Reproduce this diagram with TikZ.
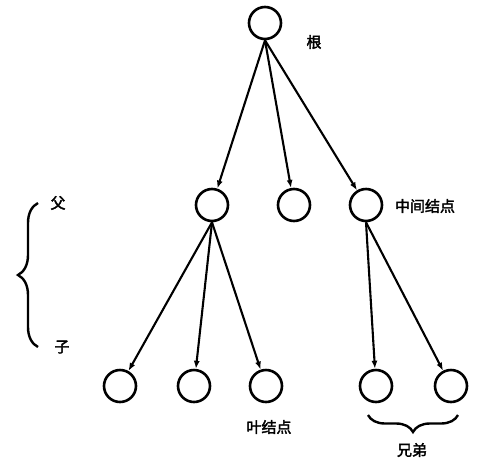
\documentclass[tikz,border=0pt]{standalone}
\usepackage{fontspec}
\newfontfamily\cjk[FakeBold=2.5]{Noto Sans CJK SC}
\usetikzlibrary{arrows.meta,decorations.pathreplacing}
\begin{document}
\begin{tikzpicture}[x=1pt,y=-1pt,
  nd/.style={circle,draw,line width=2.6pt,minimum size=32pt,inner sep=0pt},
  arr/.style={line width=2.1pt,-{Latex[length=8pt,width=6pt]}},
  lbl/.style={font=\cjk\fontsize{15pt}{15pt}\selectfont,inner sep=0pt},
  brc/.style={line width=2.4pt,decorate,decoration={brace,amplitude=#1}}]
\useasboundingbox (0,0) rectangle (495,472);
\node[nd] (r) at (265,23) {};
\node[nd] (a) at (212,205) {};
\node[nd] (b) at (294,205) {};
\node[nd] (c) at (366,205) {};
\node[nd] (a1) at (120,386) {};
\node[nd] (a2) at (194,386) {};
\node[nd] (a3) at (266,386) {};
\node[nd] (c1) at (376,386) {};
\node[nd] (c2) at (451,386) {};
\draw[arr] (r.south) -- (a);
\draw[arr] (r.south) -- (b);
\draw[arr] (r.south) -- (c);
\draw[arr] (a.south) -- (a1);
\draw[arr] (a.south) -- (a2);
\draw[arr] (a.south) -- (a3);
\draw[arr] (c.south) -- (c1);
\draw[arr] (c.south) -- (c2);
\node[lbl] (tr) at (314,42) {根};
\node[lbl] (tc) at (425,206) {中间结点};
\node[lbl] (tl) at (269,427) {叶结点};
\node[lbl] (ts) at (412,450) {兄弟};
\node[lbl] (tf) at (58,203) {父};
\node[lbl] (tz) at (62,347) {子};
\coordinate (b1) at (38,347);
\coordinate (b2) at (38,203);
\draw[brc=20pt] (b1) -- (b2);
\coordinate (b3) at (458,415);
\coordinate (b4) at (368,415);
\draw[brc=17pt] (b3) -- (b4);
\end{tikzpicture}
\end{document}
